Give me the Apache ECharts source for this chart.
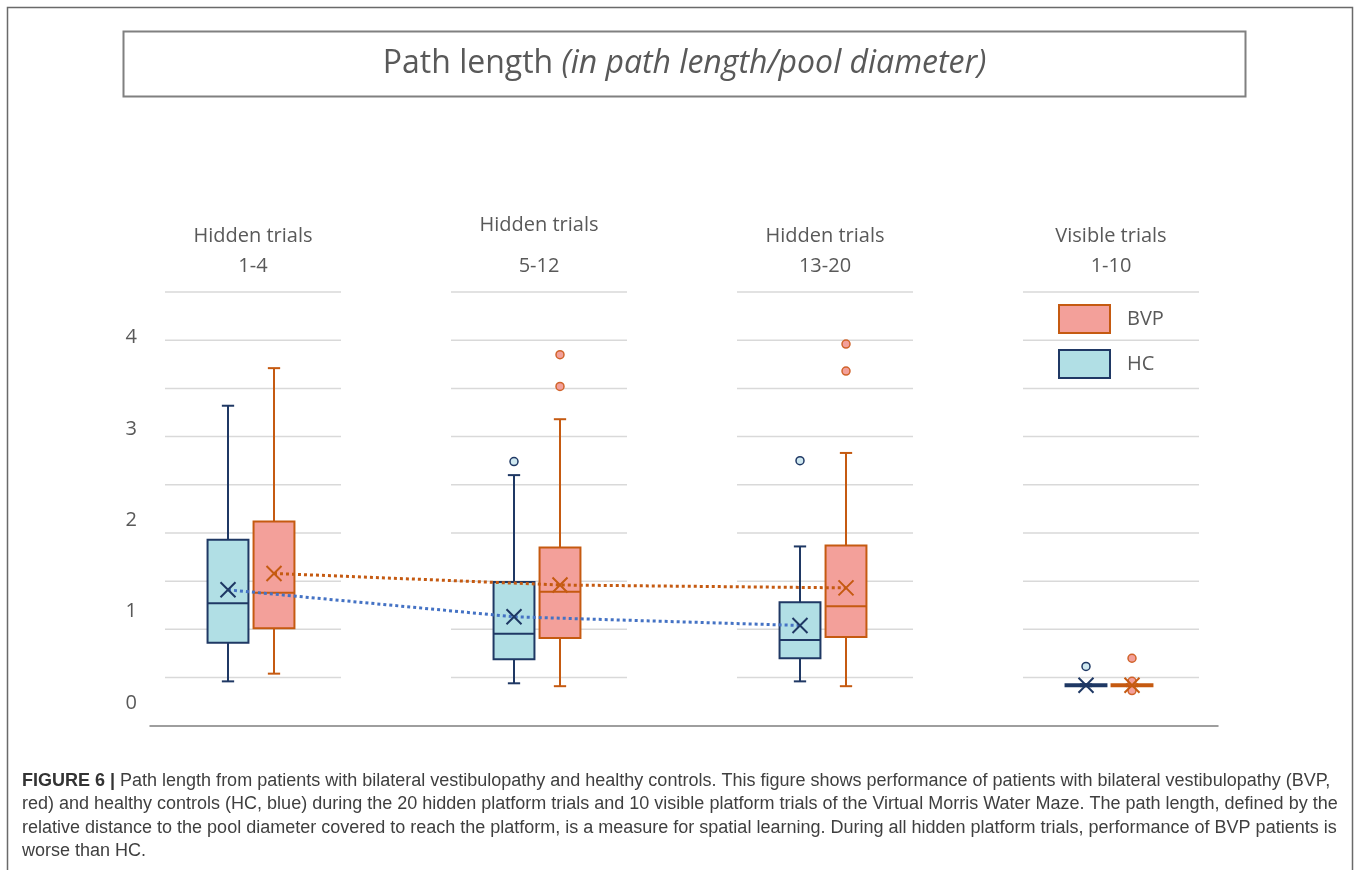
<!DOCTYPE html>
<html>
<head>
<meta charset="utf-8">
<style>
html,body{margin:0;padding:0;background:#fff;}
#chart{width:1358px;height:870px;}
</style>
<script src="https://cdn.jsdelivr.net/npm/echarts@6/dist/echarts.min.js"></script>
</head>
<body>
<div id="chart"></div>
<script>
// ---- data ----
const categories = ['Hidden trials\n1-4', 'Hidden trials\n5-12', 'Hidden trials\n13-20', 'Visible trials\n1-10'];
// [low whisker, Q1, median, Q3, high whisker]
const hcBox  = [[0.46, 0.86, 1.27, 1.93, 3.32], [0.44, 0.69, 0.955, 1.49, 2.60], [0.46, 0.70, 0.89, 1.28, 1.86], [0.41, 0.41, 0.42, 0.43, 0.43]];
const bvpBox = [[0.54, 1.01, 1.38, 2.12, 3.71], [0.41, 0.91, 1.39, 1.85, 3.18], [0.41, 0.92, 1.24, 1.87, 2.83], [0.41, 0.41, 0.42, 0.43, 0.43]];
const hcMean  = [1.41, 1.13, 1.04, 0.42];
const bvpMean = [1.58, 1.46, 1.43, 0.42];
const hcOutliers  = [[1, 2.74], [2, 2.75], [3, 0.615]];
const bvpOutliers = [[1, 3.85], [1, 3.52], [2, 3.96], [2, 3.68], [3, 0.70], [3, 0.46], [3, 0.365]];
const gridValues = [0.5, 1, 1.5, 2, 2.5, 3, 3.5, 4, 4.5];
const yLabelValues = [0, 1, 2, 3, 4];
const hiddenCount = 3;

// ---- styles ----
const HC_STROKE = '#1f3864', HC_FILL = '#b1dfe5';
const BVP_STROKE = '#c55a11', BVP_FILL = '#f3a09a';
const TXT = '#595959';
const FONT = 'Open Sans';

const GTOP = 292, GH = 433.7;

function renderBox(stroke, fill) {
  return function (params, api) {
    const i = api.value(0);
    const x = api.coord([i, api.value(3)])[0];
    const yLow = api.coord([i, api.value(1)])[1];
    const yQ1 = api.coord([i, api.value(2)])[1];
    const yMed = api.coord([i, api.value(3)])[1];
    const yQ3 = api.coord([i, api.value(4)])[1];
    const yHigh = api.coord([i, api.value(5)])[1];
    const band = api.size([1, 0])[0];
    const bw = band * 0.143;
    const cw = band * 0.043;
    const ls = { stroke: stroke, lineWidth: 2 };
    return {
      type: 'group',
      children: [
        { type: 'line', shape: { x1: x, y1: yQ3, x2: x, y2: yHigh }, style: ls },
        { type: 'line', shape: { x1: x, y1: yQ1, x2: x, y2: yLow }, style: ls },
        { type: 'line', shape: { x1: x - cw / 2, y1: yHigh, x2: x + cw / 2, y2: yHigh }, style: ls },
        { type: 'line', shape: { x1: x - cw / 2, y1: yLow, x2: x + cw / 2, y2: yLow }, style: ls },
        { type: 'rect', shape: { x: x - bw / 2, y: yQ3, width: bw, height: yQ1 - yQ3 }, style: { fill: fill, stroke: stroke, lineWidth: 2 } },
        { type: 'line', shape: { x1: x - bw / 2, y1: yMed, x2: x + bw / 2, y2: yMed }, style: ls }
      ]
    };
  };
}

const gridData = [];
categories.forEach((c, i) => gridValues.forEach(v => gridData.push([i, v])));

const X_SYMBOL = 'path://M0,0L10,10M10,0L0,10';

function hiddenCat(gi) {
  return { type: 'category', gridIndex: gi, data: categories, show: false, boundaryGap: true };
}
function hiddenVal(gi) {
  return { type: 'value', gridIndex: gi, min: 0, max: 4.5, show: false };
}

const option = {
  backgroundColor: '#ffffff',
  animation: false,
  title: [{
    text: '{b|FIGURE 6 |} Path length from patients with bilateral vestibulopathy and healthy controls. This figure shows performance of patients with bilateral vestibulopathy (BVP,\n' +
          'red) and healthy controls (HC, blue) during the 20 hidden platform trials and 10 visible platform trials of the Virtual Morris Water Maze. The path length, defined by the\n' +
          'relative distance to the pool diameter covered to reach the platform, is a measure for spatial learning. During all hidden platform trials, performance of BVP patients is\n' +
          'worse than HC.',
    left: 22, top: 769,
    padding: 0,
    textStyle: {
      fontFamily: 'Liberation Sans', fontSize: 18, fontWeight: 'normal', color: '#3f3f3f', lineHeight: 23.5,
      rich: { b: { fontFamily: 'Liberation Sans', fontSize: 18, fontWeight: 'bold', color: '#333333', lineHeight: 23.5 } }
    }
  }],
  legend: {
    data: [
      { name: 'BVP', itemStyle: { color: BVP_FILL, borderColor: BVP_STROKE, borderWidth: 2 } },
      { name: 'HC', itemStyle: { color: HC_FILL, borderColor: HC_STROKE, borderWidth: 2 } }
    ],
    orient: 'vertical', left: 1058, top: 304, padding: 0,
    itemWidth: 51, itemHeight: 28, itemGap: 15, icon: 'rect',
    selectedMode: false,
    textStyle: { fontFamily: FONT, fontSize: 20, color: TXT, padding: [0, 0, 0, 12] }
  },
  grid: [
    { left: 110, right: 104, top: GTOP, height: GH },   // main (gridlines, category labels)
    { left: 85, right: 129, top: GTOP, height: GH },    // HC
    { left: 131, right: 83, top: GTOP, height: GH },    // BVP
    { left: 150, right: 140, top: GTOP, height: GH }    // baseline & y labels
  ],
  xAxis: [
    {
      type: 'category', gridIndex: 0, data: categories, position: 'top',
      axisLine: { show: false }, axisTick: { show: false }, splitLine: { show: false },
      axisLabel: {
        interval: 0, margin: 11,
        formatter: function (v, idx) {
          const parts = v.split('\n');
          return (idx === 1 ? '{t2|' : '{t|') + parts[0] + '}\n{n|' + parts[1] + '}';
        },
        rich: {
          t: { fontFamily: FONT, fontSize: 20, color: TXT, lineHeight: 30 },
          t2: { fontFamily: FONT, fontSize: 20, color: TXT, lineHeight: 52 },
          n: { fontFamily: FONT, fontSize: 20, color: TXT, lineHeight: 30 }
        }
      }
    },
    hiddenCat(1),
    hiddenCat(2),
    {
      type: 'value', gridIndex: 3, min: 0, max: 1, position: 'bottom',
      axisLine: { show: true, onZero: false, lineStyle: { color: '#7f7f7f', width: 1.5 } },
      axisTick: { show: false }, axisLabel: { show: false }, splitLine: { show: false }
    }
  ],
  yAxis: [
    hiddenVal(0), hiddenVal(1), hiddenVal(2),
    {
      type: 'value', gridIndex: 3, min: -0.25, max: 4.5, interval: 0.25,
      axisLine: { show: false, onZero: false }, axisTick: { show: false }, splitLine: { show: false },
      axisLabel: {
        margin: 13, fontFamily: FONT, fontSize: 20, color: TXT,
        formatter: function (v) {
          const r = Math.round(v);
          return (Math.abs(v - r) < 1e-6 && yLabelValues.indexOf(r) >= 0) ? String(r) : '';
        }
      }
    }
  ],
  series: [
    {
      type: 'custom', name: 'grid lines', xAxisIndex: 0, yAxisIndex: 0, z: 1, silent: true,
      data: gridData, encode: { x: 0, y: 1 },
      renderItem: function (params, api) {
        const p = api.coord([api.value(0), api.value(1)]);
        const half = api.size([1, 0])[0] * 0.3077;
        return { type: 'line', shape: { x1: p[0] - half, y1: p[1], x2: p[0] + half, y2: p[1] }, style: { stroke: '#d9d9d9', lineWidth: 1.5 } };
      }
    },
    {
      type: 'custom', name: 'HC', xAxisIndex: 1, yAxisIndex: 1, z: 2,
      itemStyle: { color: HC_FILL, borderColor: HC_STROKE },
      data: hcBox.map((d, i) => [i].concat(d)), encode: { x: 0, y: [1, 2, 3, 4, 5] },
      renderItem: renderBox(HC_STROKE, HC_FILL)
    },
    {
      type: 'custom', name: 'BVP', xAxisIndex: 2, yAxisIndex: 2, z: 2,
      itemStyle: { color: BVP_FILL, borderColor: BVP_STROKE },
      data: bvpBox.map((d, i) => [i].concat(d)), encode: { x: 0, y: [1, 2, 3, 4, 5] },
      renderItem: renderBox(BVP_STROKE, BVP_FILL)
    },
    {
      type: 'line', name: 'HC trend', xAxisIndex: 1, yAxisIndex: 1, z: 3,
      data: hcMean.map((v, i) => i < hiddenCount ? v : null),
      symbol: 'none', lineStyle: { color: '#4472c4', width: 3, type: 'dotted' }
    },
    {
      type: 'line', name: 'BVP trend', xAxisIndex: 2, yAxisIndex: 2, z: 3,
      data: bvpMean.map((v, i) => i < hiddenCount ? v : null),
      symbol: 'none', lineStyle: { color: BVP_STROKE, width: 3, type: 'dotted' }
    },
    {
      type: 'scatter', name: 'HC outliers', xAxisIndex: 1, yAxisIndex: 1, z: 4,
      data: hcOutliers, symbol: 'circle', symbolSize: 8,
      itemStyle: { color: '#cfe8f0', borderColor: HC_STROKE, borderWidth: 1.5, opacity: 1 }
    },
    {
      type: 'scatter', name: 'BVP outliers', xAxisIndex: 2, yAxisIndex: 2, z: 4,
      data: bvpOutliers, symbol: 'circle', symbolSize: 8,
      itemStyle: { color: BVP_FILL, borderColor: '#d0632a', borderWidth: 1.5, opacity: 1 }
    },
    {
      type: 'scatter', name: 'HC mean', xAxisIndex: 1, yAxisIndex: 1, z: 5,
      data: hcMean.map((v, i) => [i, v]), symbol: X_SYMBOL, symbolSize: 15,
      itemStyle: { color: 'rgba(0,0,0,0)', borderColor: HC_STROKE, borderWidth: 2, opacity: 1 }
    },
    {
      type: 'scatter', name: 'BVP mean', xAxisIndex: 2, yAxisIndex: 2, z: 5,
      data: bvpMean.map((v, i) => [i, v]), symbol: X_SYMBOL, symbolSize: 15,
      itemStyle: { color: 'rgba(0,0,0,0)', borderColor: BVP_STROKE, borderWidth: 2, opacity: 1 }
    }
  ],
  graphic: [
    { type: 'rect', silent: true, shape: { x: 7.5, y: 7.5, width: 1345, height: 900 }, style: { fill: 'none', stroke: '#6a6a6a', lineWidth: 1.5 }, z: 0 },
    { type: 'rect', silent: true, shape: { x: 123.5, y: 31.5, width: 1122, height: 65 }, style: { fill: 'none', stroke: '#808080', lineWidth: 2 }, z: 0 },
    {
      type: 'text', silent: true, x: 684.5, y: 64, z: 10,
      style: {
        text: 'Path length {i|(in path length/pool diameter)}',
        fontFamily: FONT, fontSize: 32, fill: TXT, align: 'center', verticalAlign: 'middle',
        rich: { i: { fontFamily: FONT, fontSize: 32, fontStyle: 'italic', fill: TXT } }
      }
    }
  ]
};

const chart = echarts.init(document.getElementById('chart'), null, { renderer: 'canvas' });
chart.setOption(option);
</script>
</body>
</html>
